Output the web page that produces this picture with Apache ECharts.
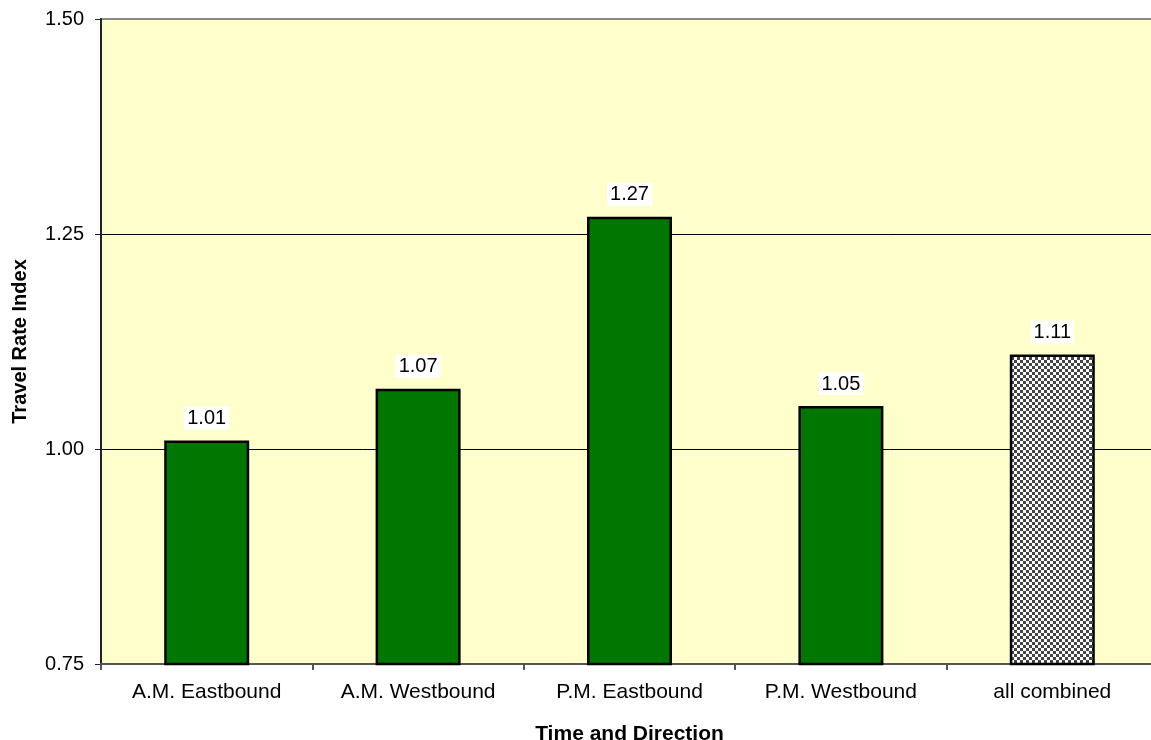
<!DOCTYPE html>
<html>
<head>
<meta charset="utf-8">
<script src="https://cdn.jsdelivr.net/npm/echarts@6/dist/echarts.min.js"></script>
<style>
  html, body { margin: 0; padding: 0; background: #ffffff; }
  #chart { width: 1151px; height: 740px; }
</style>
</head>
<body>
<div id="chart"></div>
<script>
// Travel rate index by time of day and direction
const categories = ['A.M. Eastbound', 'A.M. Westbound', 'P.M. Eastbound', 'P.M. Westbound', 'all combined'];
const travelRateIndex = [1.01, 1.07, 1.27, 1.05, 1.11];
const yTicks = [0.75, 1.00, 1.25, 1.50];

// checkered fill for the combined bar
function makeChecker(s) {
  const c = document.createElement('canvas');
  c.width = 2 * s; c.height = 2 * s;
  const g = c.getContext('2d');
  g.fillStyle = '#ffffff';
  g.fillRect(0, 0, 2 * s, 2 * s);
  g.fillStyle = '#444444';
  g.fillRect(0, 0, s, s);
  g.fillRect(s, s, s, s);
  return c;
}
const checker = makeChecker(3);

const font = '"Liberation Sans", Arial, sans-serif';

const chart = echarts.init(document.getElementById('chart'), null, { renderer: 'canvas' });
chart.setOption({
  animation: false,
  grid: {
    left: 101, top: 19, width: 1057, height: 645,
    containLabel: false,
    outerBoundsMode: 'none',
    show: true, backgroundColor: '#FFFFCC',
    borderColor: '#8a8a8a', borderWidth: 2
  },
  xAxis: {
    type: 'category',
    data: categories,
    name: 'Time and Direction',
    nameLocation: 'middle',
    nameGap: 60,
    nameTextStyle: { fontFamily: font, fontSize: 21, fontWeight: 'bold', color: '#000' },
    axisLine: { lineStyle: { color: '#555', width: 2 } },
    axisTick: { show: true, length: 6, lineStyle: { color: '#555', width: 2 } },
    axisLabel: { fontFamily: font, fontSize: 21, color: '#000', margin: 18 }
  },
  yAxis: {
    type: 'value',
    min: yTicks[0],
    max: yTicks[yTicks.length - 1],
    interval: 0.25,
    name: 'Travel Rate Index',
    nameLocation: 'middle',
    nameGap: 71,
    nameTextStyle: { fontFamily: font, fontSize: 20, fontWeight: 'bold', color: '#000' },
    axisLine: { show: true, lineStyle: { color: '#222', width: 2 } },
    axisTick: { show: true, length: 6, lineStyle: { color: '#222', width: 1 } },
    axisLabel: {
      fontFamily: font, fontSize: 20, color: '#000', margin: 17,
      formatter: v => v.toFixed(2)
    },
    splitLine: {
      show: true,
      lineStyle: { color: ['#555', '#000', '#000', '#8a8a8a'], width: 1 }
    }
  },
  series: [{
    type: 'bar',
    barWidth: 85,
    data: travelRateIndex.map((v, i) => ({
      value: v,
      itemStyle: i === travelRateIndex.length - 1
        ? { color: { image: checker, repeat: 'repeat' } }
        : { color: '#007700' }
    })),
    itemStyle: { borderColor: '#000', borderWidth: 2.5 },
    label: {
      show: true,
      position: 'top',
      distance: 11,
      fontFamily: font,
      fontSize: 20,
      color: '#000',
      backgroundColor: '#ffffff',
      padding: [2, 3, 1, 3],
      formatter: p => p.value.toFixed(2)
    }
  }]
});
</script>
</body>
</html>
